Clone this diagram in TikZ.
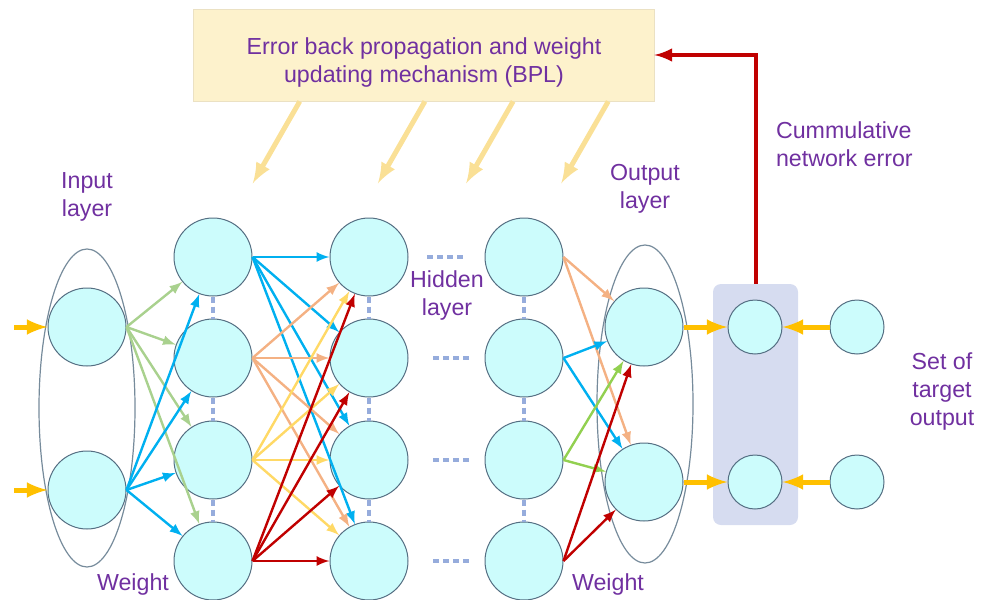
\documentclass[tikz,border=0pt]{standalone}
\usepackage{fontspec}
\setmainfont{Liberation Sans}
\usepackage{tikz}
\usetikzlibrary{arrows,calc,positioning,shapes.geometric}

\definecolor{nodefill}{RGB}{204,252,252}
\definecolor{nodeline}{RGB}{84,110,130}
\definecolor{labelpurple}{RGB}{112,48,160}
\definecolor{wblue}{RGB}{0,176,240}
\definecolor{wgreen}{RGB}{169,209,142}
\definecolor{wlime}{RGB}{146,208,80}
\definecolor{wpeach}{RGB}{244,177,131}
\definecolor{wyellow}{RGB}{255,217,102}
\definecolor{wred}{RGB}{192,0,0}
\definecolor{flowgold}{RGB}{255,192,0}
\definecolor{bplfill}{RGB}{253,242,204}
\definecolor{bplline}{RGB}{235,225,195}
\definecolor{bplarrow}{RGB}{250,224,150}
\definecolor{cmpfill}{RGB}{214,220,240}
\definecolor{dotblue}{RGB}{150,172,220}

\tikzset{
  neuron/.style={circle, draw=nodeline, fill=nodefill, line width=0.5pt, minimum size=39pt, inner sep=0pt},
  smallneuron/.style={neuron, minimum size=27pt},
  lbl/.style={text=labelpurple, font=\fontsize{11.6}{14}\selectfont, align=center},
  wire/.style={->, >=latex, line width=1.2pt},
  feed/.style={->, >=latex, line width=2.5pt, flowgold},
  gap/.style={dotblue, line width=1.6pt, dash pattern=on 3pt off 2pt},
}

\begin{document}
\begin{tikzpicture}[x=0.5pt, y=-0.5pt]
  \useasboundingbox (0,0) rectangle (989,599);

  % BPL box
  \node[draw=bplline, fill=bplfill, minimum width=230.5pt, minimum height=46pt] (bpl) at (423.5,55) {};
  \node[lbl] (bpltext) at (424,63) {Error back propagation and weight\\updating mechanism (BPL)};
  \foreach \f in {0.232,0.503,0.694,0.900}
    \draw[->, >=latex, line width=2.5pt, bplarrow] ($(bpl.south west)!\f!(bpl.south east)$) -- ++(-47,82);

  % Layer outlines
  \draw[nodeline!80, line width=0.6pt] (87,408) ellipse [x radius=48, y radius=159];
  \draw[nodeline!80, line width=0.6pt] (645,404) ellipse [x radius=48, y radius=159];
  \node[fill=cmpfill, rounded corners=4pt, minimum width=42.5pt, minimum height=120.5pt] (cmpbox) at (755.5,404.5) {};

  % Input layer
  \node[neuron] (in1) at (87,327) {};
  \node[neuron] (in2) at (87,490) {};
  \coordinate (src1) at (14,327);
  \coordinate (src2) at (14,490);
  \draw[feed] (src1) -- (in1);
  \draw[feed] (src2) -- (in2);

  % Hidden layers
  \foreach \c/\x in {a/213, b/369, c/524} {
    \foreach \r/\y in {1/257, 2/358, 3/460, 4/561}
      \node[neuron] (h\c\r) at (\x,\y) {};
    \draw[gap] (h\c1.south) -- (h\c2.north);
    \draw[gap] (h\c2.south) -- (h\c3.north);
    \draw[gap] (h\c3.south) -- (h\c4.north);
  }
  \draw[gap] (427,257) -- (466,257);
  \foreach \y in {358,460,561}
    \draw[gap] (433,\y) -- (472,\y);

  % Output, error and target nodes
  \node[neuron] (out1) at (644,327) {};
  \node[neuron] (out2) at (644,482) {};
  \node[smallneuron] (cmp1) at (755,327) {};
  \node[smallneuron] (cmp2) at (755,482) {};
  \node[smallneuron] (tgt1) at (857,327) {};
  \node[smallneuron] (tgt2) at (857,482) {};

  % Weights
  \foreach \t in {1,...,4} \draw[wire, wgreen] (in1.east) -- (ha\t);
  \foreach \t in {1,...,4} \draw[wire, wblue] (in2.east) -- (ha\t);
  \foreach \s/\col in {1/wblue, 2/wpeach, 3/wyellow, 4/wred}
    \foreach \t in {1,...,4}
      \draw[wire, \col] (ha\s.east) -- (hb\t);
  \foreach \s/\col in {1/wpeach, 2/wblue, 3/wlime, 4/wred}
    \foreach \t in {1,2}
      \draw[wire, \col] (hc\s.east) -- (out\t);

  % Error path
  \draw[feed] (out1) -- (cmp1);
  \draw[feed] (out2) -- (cmp2);
  \draw[feed] (tgt1) -- (cmp1);
  \draw[feed] (tgt2) -- (cmp2);
  \draw[->, >=latex, line width=2pt, wred] (cmpbox.north) |- (bpl.east);

  % Labels
  \node[lbl] (inlbl) at (87,197) {Input\\layer};
  \node[lbl] (hidlbl) at (447,295) {Hidden\\layer};
  \node[lbl] (outlbl) at (645,189) {Output\\layer};
  \node[lbl, align=left, anchor=west] (errlbl) at (769,144) {Cummulative\\network error};
  \node[lbl] (tgtlbl) at (942,392) {Set of\\target\\output};
  \node[lbl] (wlbl1) at (133,584) {Weight};
  \node[lbl] (wlbl2) at (608,584) {Weight};
\end{tikzpicture}
\end{document}
